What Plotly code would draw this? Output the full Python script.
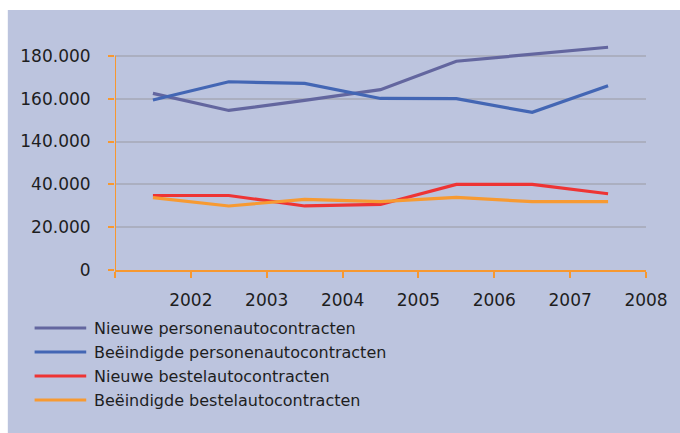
import numpy as np
import plotly.graph_objects as go

# ---- data ----
x_labels = ["2002", "2003", "2004", "2005", "2006", "2007", "2008"]
series_names = [
    "Nieuwe personenautocontracten",
    "Beëindigde personenautocontracten",
    "Nieuwe bestelautocontracten",
    "Beëindigde bestelautocontracten",
]
nieuwe_personen = [162500, 154500, 159200, 164200, 177500, 180800, 184000]
beeindigde_personen = [159400, 167900, 167100, 160100, 160000, 153600, 166000]
nieuwe_bestel = [34800, 34800, 29900, 30600, 40000, 40000, 35600]
beeindigde_bestel = [33800, 29900, 33000, 31900, 33900, 31900, 31900]
y_tick_values = [0, 20000, 40000, 140000, 160000, 180000]
y_tick_labels = ["0", "20.000", "40.000", "140.000", "160.000", "180.000"]

colors = ["#63669F", "#4366B4", "#EE3434", "#F79A32"]
bg = "#BCC4DE"
axis_col = "#F7982F"
grid_col = "#ABAFC0"
txt_col = "#1E1E1E"
font_family = "DejaVu Sans"

# broken axis: each tick label occupies one equal step
tick_pos = np.arange(len(y_tick_values), dtype=float)


def to_axis(vals):
    v = np.asarray(vals, dtype=float)
    out = np.interp(v, y_tick_values, tick_pos)
    top = v > y_tick_values[-1]
    step = y_tick_values[-1] - y_tick_values[-2]
    out[top] = tick_pos[-1] + (v[top] - y_tick_values[-1]) / step
    return out


x_pos = np.arange(len(x_labels)) + 0.5

all_series = [nieuwe_personen, beeindigde_personen, nieuwe_bestel, beeindigde_bestel]

fig = go.Figure()
for name, vals, c in zip(series_names, all_series, colors):
    fig.add_trace(go.Scatter(
        x=x_pos, y=to_axis(vals), mode="lines", name=name,
        line=dict(color=c, width=3.2), showlegend=False,
        customdata=vals, hovertemplate="%{customdata}<extra>" + name + "</extra>",
    ))

# geometry (pixels)
W, H = 680, 433
L, R, T, B = 115, 30, 43, 163
pw, ph = W - L - R, H - T - B


def px_x(x):
    return (x - L) / pw


def px_y(y):
    return (H - B - y) / ph


shapes = [
    # white strips at top/left
    dict(type="rect", xref="paper", yref="paper", x0=px_x(-5), x1=px_x(W + 5),
         y0=px_y(10), y1=px_y(-5), fillcolor="white", line_width=0, layer="below"),
    dict(type="rect", xref="paper", yref="paper", x0=px_x(-5), x1=px_x(7),
         y0=px_y(H + 5), y1=px_y(-5), fillcolor="white", line_width=0, layer="below"),
    # y axis line (only up to the top tick)
    dict(type="line", xref="x", yref="y", x0=0, x1=0, y0=0, y1=tick_pos[-1],
         line=dict(color=axis_col, width=2)),
]

annotations = []
legend_rows = [328, 352, 376, 400]
for name, c, yy in zip(series_names, colors, legend_rows):
    shapes.append(dict(type="line", xref="paper", yref="paper",
                       x0=px_x(34), x1=px_x(86), y0=px_y(yy), y1=px_y(yy),
                       line=dict(color=c, width=3.2)))
    annotations.append(dict(xref="paper", yref="paper", x=px_x(92), y=px_y(yy),
                            text=name, showarrow=False, xanchor="left", yanchor="middle",
                            font=dict(family=font_family, size=16, color=txt_col)))

fig.update_layout(
    width=W, height=H,
    margin=dict(l=L, r=R, t=T, b=B),
    paper_bgcolor=bg, plot_bgcolor=bg,
    showlegend=False,
    font=dict(family=font_family, size=17, color=txt_col),
    shapes=shapes, annotations=annotations,
    xaxis=dict(range=[0, len(x_labels)], tickvals=np.arange(len(x_labels) + 1),
               ticktext=[""] + x_labels, showgrid=False, zeroline=False,
               showline=True, linecolor=axis_col, linewidth=2,
               ticks="outside", ticklen=6, tickwidth=2, tickcolor=axis_col,
               ticklabelstandoff=8, fixedrange=True),
    yaxis=dict(range=[0, 5.3], tickvals=tick_pos, ticktext=y_tick_labels,
               showgrid=True, gridcolor=grid_col, gridwidth=1.5, zeroline=False,
               showline=False, ticks="outside", ticklen=6, tickwidth=2,
               tickcolor=axis_col, ticklabelstandoff=14, fixedrange=True),
)

fig.write_html(
    "out.html",
    config={"displayModeBar": False},
    post_script="document.body.style.margin='0';document.body.style.overflow='hidden';",
)
